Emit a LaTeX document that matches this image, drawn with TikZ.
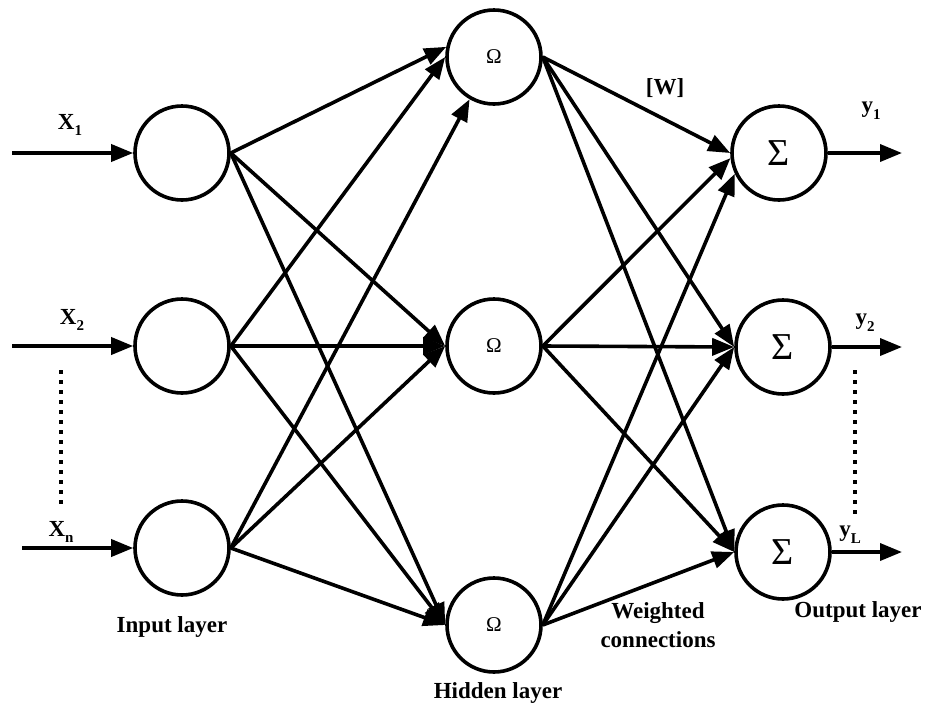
\documentclass[tikz,border=0pt]{standalone}
\usepackage{fontspec}
\setmainfont{Liberation Serif}
\usetikzlibrary{arrows.meta}
\newcommand\lowsub[1]{\raisebox{-0.3em}{\fontsize{15}{15}\selectfont #1}}
\begin{document}
\begin{tikzpicture}[x=1pt,y=-1pt,
  neuron/.style={circle,draw,line width=3.6pt,minimum size=94pt,inner sep=0pt},
  link/.style={line width=3.6pt,-{Triangle[length=22pt,width=17pt]}},
  dots/.style={line width=3.2pt,dash pattern=on 4pt off 6pt},
  caption/.style={font=\fontsize{23}{29}\selectfont\bfseries,align=center,inner sep=0pt},
  omega/.style={font=\fontsize{21}{21}\selectfont},
  sigma/.style={font=\fontsize{38}{38}\selectfont}]
\useasboundingbox (0,0) rectangle (930,705);

% input layer
\node[neuron] (i1) at (182,153) {};
\node[neuron] (i2) at (182,346) {};
\node[neuron] (i3) at (182,548) {};
% hidden layer
\node[neuron,omega] (h1) at (494,57) {Ω};
\node[neuron,omega] (h2) at (494,346) {Ω};
\node[neuron,omega] (h3) at (494,625) {Ω};
% output layer
\node[neuron,sigma] (o1) at (779,153) {Σ};
\node[neuron,sigma] (o2) at (783,347) {Σ};
\node[neuron,sigma] (o3) at (783,552) {Σ};

% inputs
\coordinate (a1) at (12,153);
\coordinate (a2) at (12,346);
\coordinate (a3) at (22,548);
\draw[link] (a1) -- (i1.west);
\draw[link] (a2) -- (i2.west);
\draw[link] (a3) -- (i3.west);

% outputs
\coordinate (b1) at (902,153);
\coordinate (b2) at (902,347);
\coordinate (b3) at (902,552);
\draw[link] (o1.east) -- (b1);
\draw[link] (o2.east) -- (b2);
\draw[link] (o3.east) -- (b3);

% input -> hidden connections
\draw[link] (i1.east) -- (h1.168);
\draw[link] (i2.east) -- (h1.west);
\draw[link] (i3.east) -- (h1.240);
\foreach \i in {1,2,3}{
  \draw[link] (i\i.east) -- (h2.west);
  \draw[link] (i\i.east) -- (h3.west);
}

% hidden -> output connections
\draw[link] (h1.east) -- (o1.west);
\draw[link] (h2.east) -- (o1.186);
\draw[link] (h3.east) -- (o1.205);
\foreach \h in {1,2,3}{
  \draw[link] (h\h.east) -- (o2.west);
  \draw[link] (h\h.east) -- (o3.west);
}

% continuation marks
\coordinate (d1) at (61,370);
\coordinate (d2) at (61,505);
\coordinate (e1) at (855,370);
\coordinate (e2) at (855,517);
\draw[dots] (d1) -- (d2);
\draw[dots] (e1) -- (e2);

% signal labels
\node[caption] (x1) at (70,125) {X\lowsub{1}};
\node[caption] (x2) at (72,320) {X\lowsub{2}};
\node[caption] (xn) at (61,532) {X\lowsub{n}};
\node[caption] (y1) at (871,111) {y\lowsub{1}};
\node[caption] (y2) at (865,323) {y\lowsub{2}};
\node[caption] (yl) at (850,535) {y\lowsub{L}};

% layer captions
\node[caption] (w) at (665,88) {[W]};
\node[caption] (il) at (172,627) {Input layer};
\node[caption] (hl) at (498,693) {Hidden layer};
\node[caption] (ol) at (858,612) {Output layer};
\node[caption] (wc) at (658,625) {Weighted\\connections};
\end{tikzpicture}
\end{document}
